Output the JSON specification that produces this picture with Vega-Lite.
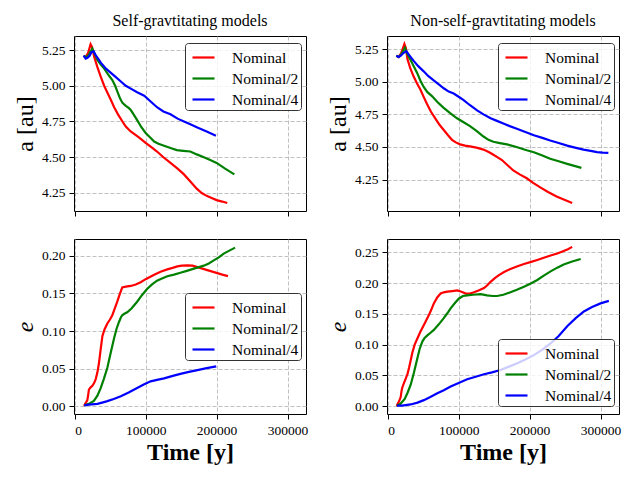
{
  "$schema": "https://vega.github.io/schema/vega-lite/v6.json",
  "background": "white",
  "padding": {"left": 12, "top": 12, "right": 5, "bottom": 5},
  "config": {
    "font": "Liberation Serif",
    "view": {"stroke": "black", "strokeWidth": 1},
    "axis": {
      "grid": true,
      "gridColor": "#b0b0b0",
      "gridDash": [4, 2],
      "gridWidth": 0.8,
      "domain": false,
      "tickColor": "black",
      "tickSize": 5,
      "tickWidth": 1,
      "labelFont": "Liberation Serif",
      "labelFontSize": 13.5,
      "labelColor": "black",
      "labelPadding": 4,
      "titleFont": "Liberation Serif",
      "titleFontSize": 24,
      "titleFontWeight": "normal",
      "titleColor": "black",
      "titlePadding": 4
    },
    "legend": {
      "orient": "none",
      "title": null,
      "zindex": 1,
      "symbolType": "stroke",
      "symbolStrokeWidth": 2.2,
      "symbolSize": 484,
      "symbolOffset": 4,
      "labelFont": "Liberation Serif",
      "labelFontSize": 15.5,
      "labelColor": "black",
      "labelOffset": 16,
      "padding": 2,
      "rowPadding": -0.5,
      "strokeColor": "#333333",
      "fillColor": "rgba(255,255,255,0.8)",
      "cornerRadius": 3
    },
    "title": {"font": "Liberation Serif", "fontSize": 16, "fontWeight": "normal", "color": "black", "offset": 7},
    "line": {"strokeWidth": 2.2}
  },
  "datasets": {
    "sg_a": [
      {"model": "Nominal", "t": 12600, "v": 5.21}, {"model": "Nominal", "t": 15500, "v": 5.20}, {"model": "Nominal", "t": 19000, "v": 5.23},
      {"model": "Nominal", "t": 22400, "v": 5.29}, {"model": "Nominal", "t": 24500, "v": 5.27}, {"model": "Nominal", "t": 27600, "v": 5.20},
      {"model": "Nominal", "t": 32000, "v": 5.13}, {"model": "Nominal", "t": 36900, "v": 5.06}, {"model": "Nominal", "t": 41500, "v": 5.00},
      {"model": "Nominal", "t": 46300, "v": 4.95}, {"model": "Nominal", "t": 51000, "v": 4.90}, {"model": "Nominal", "t": 55600, "v": 4.85},
      {"model": "Nominal", "t": 61000, "v": 4.80}, {"model": "Nominal", "t": 67300, "v": 4.75}, {"model": "Nominal", "t": 72000, "v": 4.715},
      {"model": "Nominal", "t": 78900, "v": 4.68}, {"model": "Nominal", "t": 90000, "v": 4.64}, {"model": "Nominal", "t": 100000, "v": 4.60},
      {"model": "Nominal", "t": 108000, "v": 4.57}, {"model": "Nominal", "t": 116000, "v": 4.54}, {"model": "Nominal", "t": 125000, "v": 4.50},
      {"model": "Nominal", "t": 135000, "v": 4.46}, {"model": "Nominal", "t": 145000, "v": 4.42}, {"model": "Nominal", "t": 154000, "v": 4.38},
      {"model": "Nominal", "t": 163000, "v": 4.33}, {"model": "Nominal", "t": 172000, "v": 4.28}, {"model": "Nominal", "t": 179000, "v": 4.25},
      {"model": "Nominal", "t": 186000, "v": 4.23}, {"model": "Nominal", "t": 193000, "v": 4.215}, {"model": "Nominal", "t": 200000, "v": 4.20},
      {"model": "Nominal", "t": 208000, "v": 4.19}, {"model": "Nominal", "t": 215000, "v": 4.18},
      {"model": "Nominal/2", "t": 12600, "v": 5.21}, {"model": "Nominal/2", "t": 15500, "v": 5.20}, {"model": "Nominal/2", "t": 19000, "v": 5.21},
      {"model": "Nominal/2", "t": 24800, "v": 5.26}, {"model": "Nominal/2", "t": 27500, "v": 5.23}, {"model": "Nominal/2", "t": 32000, "v": 5.18},
      {"model": "Nominal/2", "t": 36500, "v": 5.15}, {"model": "Nominal/2", "t": 41600, "v": 5.12}, {"model": "Nominal/2", "t": 47000, "v": 5.08},
      {"model": "Nominal/2", "t": 53000, "v": 5.04}, {"model": "Nominal/2", "t": 57000, "v": 5.00}, {"model": "Nominal/2", "t": 60000, "v": 4.96},
      {"model": "Nominal/2", "t": 64000, "v": 4.91}, {"model": "Nominal/2", "t": 67300, "v": 4.88}, {"model": "Nominal/2", "t": 72000, "v": 4.86},
      {"model": "Nominal/2", "t": 76000, "v": 4.845}, {"model": "Nominal/2", "t": 79000, "v": 4.83}, {"model": "Nominal/2", "t": 83000, "v": 4.80},
      {"model": "Nominal/2", "t": 88000, "v": 4.76}, {"model": "Nominal/2", "t": 94000, "v": 4.71}, {"model": "Nominal/2", "t": 100000, "v": 4.67},
      {"model": "Nominal/2", "t": 106000, "v": 4.64}, {"model": "Nominal/2", "t": 112000, "v": 4.61}, {"model": "Nominal/2", "t": 118000, "v": 4.595},
      {"model": "Nominal/2", "t": 126000, "v": 4.58}, {"model": "Nominal/2", "t": 135000, "v": 4.565}, {"model": "Nominal/2", "t": 144000, "v": 4.55},
      {"model": "Nominal/2", "t": 153000, "v": 4.545}, {"model": "Nominal/2", "t": 163000, "v": 4.54}, {"model": "Nominal/2", "t": 172000, "v": 4.52},
      {"model": "Nominal/2", "t": 182000, "v": 4.50}, {"model": "Nominal/2", "t": 191000, "v": 4.48}, {"model": "Nominal/2", "t": 200000, "v": 4.46},
      {"model": "Nominal/2", "t": 212000, "v": 4.42}, {"model": "Nominal/2", "t": 225000, "v": 4.38},
      {"model": "Nominal/4", "t": 12600, "v": 5.21}, {"model": "Nominal/4", "t": 15500, "v": 5.19}, {"model": "Nominal/4", "t": 18000, "v": 5.195},
      {"model": "Nominal/4", "t": 21000, "v": 5.21}, {"model": "Nominal/4", "t": 23500, "v": 5.235}, {"model": "Nominal/4", "t": 26600, "v": 5.24},
      {"model": "Nominal/4", "t": 30000, "v": 5.21}, {"model": "Nominal/4", "t": 33000, "v": 5.19}, {"model": "Nominal/4", "t": 37000, "v": 5.16},
      {"model": "Nominal/4", "t": 44000, "v": 5.12}, {"model": "Nominal/4", "t": 51000, "v": 5.09}, {"model": "Nominal/4", "t": 58000, "v": 5.06},
      {"model": "Nominal/4", "t": 65000, "v": 5.03}, {"model": "Nominal/4", "t": 72000, "v": 5.00}, {"model": "Nominal/4", "t": 79000, "v": 4.98},
      {"model": "Nominal/4", "t": 88000, "v": 4.955}, {"model": "Nominal/4", "t": 98000, "v": 4.93}, {"model": "Nominal/4", "t": 107000, "v": 4.89},
      {"model": "Nominal/4", "t": 116000, "v": 4.85}, {"model": "Nominal/4", "t": 125000, "v": 4.82}, {"model": "Nominal/4", "t": 135000, "v": 4.80},
      {"model": "Nominal/4", "t": 145000, "v": 4.77}, {"model": "Nominal/4", "t": 154000, "v": 4.75}, {"model": "Nominal/4", "t": 163000, "v": 4.73},
      {"model": "Nominal/4", "t": 172000, "v": 4.71}, {"model": "Nominal/4", "t": 186000, "v": 4.68}, {"model": "Nominal/4", "t": 199000, "v": 4.65}
    ],
    "nsg_a": [
      {"model": "Nominal", "t": 12200, "v": 5.20}, {"model": "Nominal", "t": 15500, "v": 5.19}, {"model": "Nominal", "t": 19000, "v": 5.22},
      {"model": "Nominal", "t": 23500, "v": 5.29}, {"model": "Nominal", "t": 25500, "v": 5.26}, {"model": "Nominal", "t": 28000, "v": 5.17},
      {"model": "Nominal", "t": 32000, "v": 5.10}, {"model": "Nominal", "t": 36600, "v": 5.04}, {"model": "Nominal", "t": 41000, "v": 4.99},
      {"model": "Nominal", "t": 46000, "v": 4.94}, {"model": "Nominal", "t": 51000, "v": 4.88}, {"model": "Nominal", "t": 55400, "v": 4.83},
      {"model": "Nominal", "t": 61000, "v": 4.77}, {"model": "Nominal", "t": 67000, "v": 4.72}, {"model": "Nominal", "t": 73000, "v": 4.67},
      {"model": "Nominal", "t": 79000, "v": 4.63}, {"model": "Nominal", "t": 85000, "v": 4.59}, {"model": "Nominal", "t": 90600, "v": 4.555},
      {"model": "Nominal", "t": 96000, "v": 4.535}, {"model": "Nominal", "t": 102000, "v": 4.52}, {"model": "Nominal", "t": 109000, "v": 4.51},
      {"model": "Nominal", "t": 116000, "v": 4.505}, {"model": "Nominal", "t": 125000, "v": 4.495}, {"model": "Nominal", "t": 135000, "v": 4.48},
      {"model": "Nominal", "t": 143000, "v": 4.46}, {"model": "Nominal", "t": 149000, "v": 4.44}, {"model": "Nominal", "t": 155000, "v": 4.42},
      {"model": "Nominal", "t": 161000, "v": 4.40}, {"model": "Nominal", "t": 169000, "v": 4.36}, {"model": "Nominal", "t": 177000, "v": 4.32},
      {"model": "Nominal", "t": 186000, "v": 4.29}, {"model": "Nominal", "t": 196000, "v": 4.26}, {"model": "Nominal", "t": 205000, "v": 4.225},
      {"model": "Nominal", "t": 215000, "v": 4.19}, {"model": "Nominal", "t": 226000, "v": 4.155}, {"model": "Nominal", "t": 238000, "v": 4.12},
      {"model": "Nominal", "t": 249000, "v": 4.095}, {"model": "Nominal", "t": 260000, "v": 4.07},
      {"model": "Nominal/2", "t": 12200, "v": 5.20}, {"model": "Nominal/2", "t": 15500, "v": 5.19}, {"model": "Nominal/2", "t": 19000, "v": 5.21},
      {"model": "Nominal/2", "t": 24400, "v": 5.26}, {"model": "Nominal/2", "t": 27000, "v": 5.22}, {"model": "Nominal/2", "t": 32000, "v": 5.17},
      {"model": "Nominal/2", "t": 36500, "v": 5.12}, {"model": "Nominal/2", "t": 41300, "v": 5.07}, {"model": "Nominal/2", "t": 46000, "v": 5.01},
      {"model": "Nominal/2", "t": 50700, "v": 4.96}, {"model": "Nominal/2", "t": 56000, "v": 4.92}, {"model": "Nominal/2", "t": 62400, "v": 4.89},
      {"model": "Nominal/2", "t": 70000, "v": 4.845}, {"model": "Nominal/2", "t": 78900, "v": 4.80}, {"model": "Nominal/2", "t": 88000, "v": 4.76},
      {"model": "Nominal/2", "t": 97700, "v": 4.72}, {"model": "Nominal/2", "t": 107000, "v": 4.69}, {"model": "Nominal/2", "t": 116000, "v": 4.66},
      {"model": "Nominal/2", "t": 126000, "v": 4.62}, {"model": "Nominal/2", "t": 135000, "v": 4.58}, {"model": "Nominal/2", "t": 142000, "v": 4.555},
      {"model": "Nominal/2", "t": 149000, "v": 4.54}, {"model": "Nominal/2", "t": 158000, "v": 4.53}, {"model": "Nominal/2", "t": 168000, "v": 4.52},
      {"model": "Nominal/2", "t": 178000, "v": 4.505}, {"model": "Nominal/2", "t": 187000, "v": 4.49}, {"model": "Nominal/2", "t": 196000, "v": 4.475},
      {"model": "Nominal/2", "t": 206000, "v": 4.46}, {"model": "Nominal/2", "t": 218000, "v": 4.435}, {"model": "Nominal/2", "t": 229000, "v": 4.41},
      {"model": "Nominal/2", "t": 241000, "v": 4.39}, {"model": "Nominal/2", "t": 253000, "v": 4.37}, {"model": "Nominal/2", "t": 263000, "v": 4.355},
      {"model": "Nominal/2", "t": 273000, "v": 4.34},
      {"model": "Nominal/4", "t": 12200, "v": 5.20}, {"model": "Nominal/4", "t": 15500, "v": 5.19}, {"model": "Nominal/4", "t": 18500, "v": 5.20},
      {"model": "Nominal/4", "t": 22000, "v": 5.22}, {"model": "Nominal/4", "t": 26300, "v": 5.235}, {"model": "Nominal/4", "t": 29500, "v": 5.21},
      {"model": "Nominal/4", "t": 33000, "v": 5.185}, {"model": "Nominal/4", "t": 36600, "v": 5.16}, {"model": "Nominal/4", "t": 43000, "v": 5.12},
      {"model": "Nominal/4", "t": 50700, "v": 5.08}, {"model": "Nominal/4", "t": 57000, "v": 5.045}, {"model": "Nominal/4", "t": 64800, "v": 5.01},
      {"model": "Nominal/4", "t": 72000, "v": 4.98}, {"model": "Nominal/4", "t": 79000, "v": 4.95}, {"model": "Nominal/4", "t": 86000, "v": 4.925},
      {"model": "Nominal/4", "t": 93000, "v": 4.91}, {"model": "Nominal/4", "t": 100000, "v": 4.885}, {"model": "Nominal/4", "t": 107000, "v": 4.86},
      {"model": "Nominal/4", "t": 116000, "v": 4.82}, {"model": "Nominal/4", "t": 126000, "v": 4.78}, {"model": "Nominal/4", "t": 135000, "v": 4.75},
      {"model": "Nominal/4", "t": 145000, "v": 4.72}, {"model": "Nominal/4", "t": 154000, "v": 4.70}, {"model": "Nominal/4", "t": 163000, "v": 4.68},
      {"model": "Nominal/4", "t": 172000, "v": 4.66}, {"model": "Nominal/4", "t": 182000, "v": 4.64}, {"model": "Nominal/4", "t": 194000, "v": 4.615},
      {"model": "Nominal/4", "t": 206000, "v": 4.59}, {"model": "Nominal/4", "t": 218000, "v": 4.57}, {"model": "Nominal/4", "t": 229000, "v": 4.55},
      {"model": "Nominal/4", "t": 241000, "v": 4.53}, {"model": "Nominal/4", "t": 253000, "v": 4.51}, {"model": "Nominal/4", "t": 264000, "v": 4.495},
      {"model": "Nominal/4", "t": 276000, "v": 4.48}, {"model": "Nominal/4", "t": 286000, "v": 4.47}, {"model": "Nominal/4", "t": 295000, "v": 4.46},
      {"model": "Nominal/4", "t": 303000, "v": 4.457}, {"model": "Nominal/4", "t": 311000, "v": 4.455}
    ],
    "sg_e": [
      {"model": "Nominal", "t": 13500, "v": 0.0}, {"model": "Nominal", "t": 14000, "v": 0.002}, {"model": "Nominal", "t": 16000, "v": 0.005},
      {"model": "Nominal", "t": 17800, "v": 0.008}, {"model": "Nominal", "t": 19000, "v": 0.015}, {"model": "Nominal", "t": 20000, "v": 0.022},
      {"model": "Nominal", "t": 22500, "v": 0.025}, {"model": "Nominal", "t": 24900, "v": 0.027}, {"model": "Nominal", "t": 27500, "v": 0.031},
      {"model": "Nominal", "t": 29600, "v": 0.036}, {"model": "Nominal", "t": 32000, "v": 0.045}, {"model": "Nominal", "t": 34000, "v": 0.056},
      {"model": "Nominal", "t": 36500, "v": 0.075}, {"model": "Nominal", "t": 39000, "v": 0.093}, {"model": "Nominal", "t": 42000, "v": 0.102},
      {"model": "Nominal", "t": 46000, "v": 0.11}, {"model": "Nominal", "t": 49500, "v": 0.115}, {"model": "Nominal", "t": 53000, "v": 0.121},
      {"model": "Nominal", "t": 56500, "v": 0.13}, {"model": "Nominal", "t": 60000, "v": 0.139}, {"model": "Nominal", "t": 63500, "v": 0.149},
      {"model": "Nominal", "t": 67000, "v": 0.158}, {"model": "Nominal", "t": 72000, "v": 0.159}, {"model": "Nominal", "t": 79000, "v": 0.16},
      {"model": "Nominal", "t": 86000, "v": 0.162}, {"model": "Nominal", "t": 93000, "v": 0.165}, {"model": "Nominal", "t": 100000, "v": 0.169},
      {"model": "Nominal", "t": 106000, "v": 0.172}, {"model": "Nominal", "t": 112000, "v": 0.175}, {"model": "Nominal", "t": 121000, "v": 0.179},
      {"model": "Nominal", "t": 130500, "v": 0.182}, {"model": "Nominal", "t": 138000, "v": 0.184}, {"model": "Nominal", "t": 144600, "v": 0.186},
      {"model": "Nominal", "t": 151000, "v": 0.187}, {"model": "Nominal", "t": 158700, "v": 0.1875}, {"model": "Nominal", "t": 166000, "v": 0.187},
      {"model": "Nominal", "t": 172800, "v": 0.185}, {"model": "Nominal", "t": 180000, "v": 0.183}, {"model": "Nominal", "t": 186900, "v": 0.181},
      {"model": "Nominal", "t": 194000, "v": 0.179}, {"model": "Nominal", "t": 201000, "v": 0.177}, {"model": "Nominal", "t": 208000, "v": 0.175},
      {"model": "Nominal", "t": 216000, "v": 0.173},
      {"model": "Nominal/2", "t": 13500, "v": 0.001}, {"model": "Nominal/2", "t": 20000, "v": 0.003}, {"model": "Nominal/2", "t": 27000, "v": 0.007},
      {"model": "Nominal/2", "t": 32000, "v": 0.014}, {"model": "Nominal/2", "t": 36600, "v": 0.024}, {"model": "Nominal/2", "t": 41000, "v": 0.036},
      {"model": "Nominal/2", "t": 46000, "v": 0.051}, {"model": "Nominal/2", "t": 50500, "v": 0.07}, {"model": "Nominal/2", "t": 55400, "v": 0.09},
      {"model": "Nominal/2", "t": 59000, "v": 0.103}, {"model": "Nominal/2", "t": 62400, "v": 0.112}, {"model": "Nominal/2", "t": 65000, "v": 0.118},
      {"model": "Nominal/2", "t": 67000, "v": 0.121}, {"model": "Nominal/2", "t": 70000, "v": 0.123}, {"model": "Nominal/2", "t": 74000, "v": 0.125},
      {"model": "Nominal/2", "t": 80000, "v": 0.13}, {"model": "Nominal/2", "t": 88000, "v": 0.139}, {"model": "Nominal/2", "t": 95000, "v": 0.148},
      {"model": "Nominal/2", "t": 102000, "v": 0.156}, {"model": "Nominal/2", "t": 109000, "v": 0.162}, {"model": "Nominal/2", "t": 116000, "v": 0.167},
      {"model": "Nominal/2", "t": 123000, "v": 0.17}, {"model": "Nominal/2", "t": 130500, "v": 0.173}, {"model": "Nominal/2", "t": 140000, "v": 0.175},
      {"model": "Nominal/2", "t": 149000, "v": 0.1775}, {"model": "Nominal/2", "t": 158000, "v": 0.18}, {"model": "Nominal/2", "t": 168000, "v": 0.183},
      {"model": "Nominal/2", "t": 175000, "v": 0.185}, {"model": "Nominal/2", "t": 182000, "v": 0.187}, {"model": "Nominal/2", "t": 189000, "v": 0.19},
      {"model": "Nominal/2", "t": 196000, "v": 0.194}, {"model": "Nominal/2", "t": 203000, "v": 0.198}, {"model": "Nominal/2", "t": 210000, "v": 0.203},
      {"model": "Nominal/2", "t": 218000, "v": 0.207}, {"model": "Nominal/2", "t": 226000, "v": 0.211},
      {"model": "Nominal/4", "t": 13500, "v": 0.001}, {"model": "Nominal/4", "t": 20000, "v": 0.002}, {"model": "Nominal/4", "t": 32000, "v": 0.003},
      {"model": "Nominal/4", "t": 40000, "v": 0.005}, {"model": "Nominal/4", "t": 46000, "v": 0.0066}, {"model": "Nominal/4", "t": 55000, "v": 0.0095},
      {"model": "Nominal/4", "t": 65000, "v": 0.013}, {"model": "Nominal/4", "t": 76000, "v": 0.018}, {"model": "Nominal/4", "t": 88000, "v": 0.024},
      {"model": "Nominal/4", "t": 98000, "v": 0.029}, {"model": "Nominal/4", "t": 107000, "v": 0.033}, {"model": "Nominal/4", "t": 116000, "v": 0.035},
      {"model": "Nominal/4", "t": 126000, "v": 0.037}, {"model": "Nominal/4", "t": 137000, "v": 0.040}, {"model": "Nominal/4", "t": 149000, "v": 0.043},
      {"model": "Nominal/4", "t": 161000, "v": 0.0455}, {"model": "Nominal/4", "t": 173000, "v": 0.048}, {"model": "Nominal/4", "t": 186000, "v": 0.0505},
      {"model": "Nominal/4", "t": 199500, "v": 0.053}
    ],
    "nsg_e": [
      {"model": "Nominal", "t": 13000, "v": 0.0}, {"model": "Nominal", "t": 13600, "v": 0.003}, {"model": "Nominal", "t": 16000, "v": 0.008},
      {"model": "Nominal", "t": 18300, "v": 0.015}, {"model": "Nominal", "t": 19500, "v": 0.025}, {"model": "Nominal", "t": 20700, "v": 0.031},
      {"model": "Nominal", "t": 23000, "v": 0.038}, {"model": "Nominal", "t": 25400, "v": 0.045}, {"model": "Nominal", "t": 28000, "v": 0.053},
      {"model": "Nominal", "t": 30000, "v": 0.062}, {"model": "Nominal", "t": 32500, "v": 0.075}, {"model": "Nominal", "t": 34700, "v": 0.087},
      {"model": "Nominal", "t": 38000, "v": 0.1}, {"model": "Nominal", "t": 41800, "v": 0.11}, {"model": "Nominal", "t": 46000, "v": 0.121},
      {"model": "Nominal", "t": 51000, "v": 0.132}, {"model": "Nominal", "t": 54500, "v": 0.14}, {"model": "Nominal", "t": 58000, "v": 0.148},
      {"model": "Nominal", "t": 61500, "v": 0.157}, {"model": "Nominal", "t": 65000, "v": 0.167}, {"model": "Nominal", "t": 70000, "v": 0.177},
      {"model": "Nominal", "t": 74600, "v": 0.183}, {"model": "Nominal", "t": 79000, "v": 0.185}, {"model": "Nominal", "t": 84000, "v": 0.186},
      {"model": "Nominal", "t": 91000, "v": 0.187}, {"model": "Nominal", "t": 98000, "v": 0.188}, {"model": "Nominal", "t": 104000, "v": 0.186},
      {"model": "Nominal", "t": 110000, "v": 0.183}, {"model": "Nominal", "t": 116000, "v": 0.183}, {"model": "Nominal", "t": 121600, "v": 0.185},
      {"model": "Nominal", "t": 128000, "v": 0.188}, {"model": "Nominal", "t": 135700, "v": 0.192}, {"model": "Nominal", "t": 140000, "v": 0.196},
      {"model": "Nominal", "t": 145000, "v": 0.202}, {"model": "Nominal", "t": 151000, "v": 0.208}, {"model": "Nominal", "t": 156800, "v": 0.213},
      {"model": "Nominal", "t": 164000, "v": 0.218}, {"model": "Nominal", "t": 173000, "v": 0.223}, {"model": "Nominal", "t": 182000, "v": 0.227},
      {"model": "Nominal", "t": 192000, "v": 0.231}, {"model": "Nominal", "t": 201000, "v": 0.234}, {"model": "Nominal", "t": 210800, "v": 0.2375},
      {"model": "Nominal", "t": 220000, "v": 0.241}, {"model": "Nominal", "t": 229600, "v": 0.2446}, {"model": "Nominal", "t": 239000, "v": 0.248},
      {"model": "Nominal", "t": 248000, "v": 0.252}, {"model": "Nominal", "t": 254000, "v": 0.255}, {"model": "Nominal", "t": 260000, "v": 0.2587},
      {"model": "Nominal/2", "t": 13000, "v": 0.001}, {"model": "Nominal/2", "t": 18000, "v": 0.004}, {"model": "Nominal/2", "t": 24000, "v": 0.012},
      {"model": "Nominal/2", "t": 28000, "v": 0.022}, {"model": "Nominal/2", "t": 32400, "v": 0.035}, {"model": "Nominal/2", "t": 37000, "v": 0.055},
      {"model": "Nominal/2", "t": 41800, "v": 0.078}, {"model": "Nominal/2", "t": 45000, "v": 0.093}, {"model": "Nominal/2", "t": 48800, "v": 0.105},
      {"model": "Nominal/2", "t": 52000, "v": 0.111}, {"model": "Nominal/2", "t": 55900, "v": 0.115}, {"model": "Nominal/2", "t": 60000, "v": 0.119},
      {"model": "Nominal/2", "t": 65000, "v": 0.124}, {"model": "Nominal/2", "t": 72000, "v": 0.133}, {"model": "Nominal/2", "t": 79000, "v": 0.143},
      {"model": "Nominal/2", "t": 84000, "v": 0.151}, {"model": "Nominal/2", "t": 88700, "v": 0.159}, {"model": "Nominal/2", "t": 95000, "v": 0.168},
      {"model": "Nominal/2", "t": 100500, "v": 0.175}, {"model": "Nominal/2", "t": 106000, "v": 0.179}, {"model": "Nominal/2", "t": 112000, "v": 0.18},
      {"model": "Nominal/2", "t": 120000, "v": 0.181}, {"model": "Nominal/2", "t": 131000, "v": 0.182}, {"model": "Nominal/2", "t": 140000, "v": 0.18},
      {"model": "Nominal/2", "t": 148000, "v": 0.179}, {"model": "Nominal/2", "t": 154000, "v": 0.179}, {"model": "Nominal/2", "t": 163000, "v": 0.181},
      {"model": "Nominal/2", "t": 173000, "v": 0.185}, {"model": "Nominal/2", "t": 182000, "v": 0.189}, {"model": "Nominal/2", "t": 192000, "v": 0.194},
      {"model": "Nominal/2", "t": 201000, "v": 0.199}, {"model": "Nominal/2", "t": 210800, "v": 0.205}, {"model": "Nominal/2", "t": 220000, "v": 0.212},
      {"model": "Nominal/2", "t": 229600, "v": 0.219}, {"model": "Nominal/2", "t": 239000, "v": 0.225}, {"model": "Nominal/2", "t": 248000, "v": 0.23},
      {"model": "Nominal/2", "t": 260000, "v": 0.235}, {"model": "Nominal/2", "t": 272000, "v": 0.239},
      {"model": "Nominal/4", "t": 13000, "v": 0.001}, {"model": "Nominal/4", "t": 20000, "v": 0.001}, {"model": "Nominal/4", "t": 32400, "v": 0.003},
      {"model": "Nominal/4", "t": 42000, "v": 0.006}, {"model": "Nominal/4", "t": 51000, "v": 0.01}, {"model": "Nominal/4", "t": 60000, "v": 0.015},
      {"model": "Nominal/4", "t": 70000, "v": 0.021}, {"model": "Nominal/4", "t": 79000, "v": 0.026}, {"model": "Nominal/4", "t": 88700, "v": 0.032},
      {"model": "Nominal/4", "t": 100000, "v": 0.038}, {"model": "Nominal/4", "t": 112000, "v": 0.044}, {"model": "Nominal/4", "t": 124000, "v": 0.048},
      {"model": "Nominal/4", "t": 135700, "v": 0.052}, {"model": "Nominal/4", "t": 147000, "v": 0.055}, {"model": "Nominal/4", "t": 159000, "v": 0.059},
      {"model": "Nominal/4", "t": 170000, "v": 0.064}, {"model": "Nominal/4", "t": 182600, "v": 0.07}, {"model": "Nominal/4", "t": 194000, "v": 0.076},
      {"model": "Nominal/4", "t": 206000, "v": 0.083}, {"model": "Nominal/4", "t": 218000, "v": 0.092}, {"model": "Nominal/4", "t": 229600, "v": 0.102},
      {"model": "Nominal/4", "t": 241000, "v": 0.114}, {"model": "Nominal/4", "t": 253000, "v": 0.13}, {"model": "Nominal/4", "t": 265000, "v": 0.143},
      {"model": "Nominal/4", "t": 276500, "v": 0.154}, {"model": "Nominal/4", "t": 288000, "v": 0.161}, {"model": "Nominal/4", "t": 300000, "v": 0.167},
      {"model": "Nominal/4", "t": 311700, "v": 0.171}
    ]
  },
  "bounds": "flush",
  "columns": 2,
  "spacing": {"row": 28, "column": 81},
  "resolve": {"scale": {"color": "independent", "x": "independent", "y": "independent"}, "legend": {"color": "independent"}},
  "concat": [
    {
      "title": "Self-gravtitating models",
      "width": 232,
      "height": 175,
      "data": {"name": "sg_a"},
      "mark": "line",
      "encoding": {
        "x": {"field": "t", "type": "quantitative", "scale": {"domain": [-1000, 326000], "nice": false, "zero": false},
              "axis": {"title": null, "labels": false, "values": [0, 100000, 200000, 300000]}},
        "y": {"field": "v", "type": "quantitative", "scale": {"domain": [4.124, 5.348], "nice": false, "zero": false},
              "axis": {"title": "a [au]", "format": ".2f", "values": [4.25, 4.5, 4.75, 5.0, 5.25]}},
        "color": {"field": "model", "type": "nominal",
                  "scale": {"domain": ["Nominal", "Nominal/2", "Nominal/4"], "range": ["#ff0000", "#008000", "#0000ff"]},
                  "legend": {"legendX": 111, "legendY": 7}}
      }
    },
    {
      "title": "Non-self-gravtitating models",
      "width": 232,
      "height": 175,
      "data": {"name": "nsg_a"},
      "mark": "line",
      "encoding": {
        "x": {"field": "t", "type": "quantitative", "scale": {"domain": [-1000, 326000], "nice": false, "zero": false},
              "axis": {"title": null, "labels": false, "values": [0, 100000, 200000, 300000]}},
        "y": {"field": "v", "type": "quantitative", "scale": {"domain": [4.009, 5.351], "nice": false, "zero": false},
              "axis": {"title": "a [au]", "format": ".2f", "values": [4.25, 4.5, 4.75, 5.0, 5.25]}},
        "color": {"field": "model", "type": "nominal",
                  "scale": {"domain": ["Nominal", "Nominal/2", "Nominal/4"], "range": ["#ff0000", "#008000", "#0000ff"]},
                  "legend": {"legendX": 111, "legendY": 7}}
      }
    },
    {
      "width": 232,
      "height": 175,
      "data": {"name": "sg_e"},
      "mark": "line",
      "encoding": {
        "x": {"field": "t", "type": "quantitative", "scale": {"domain": [-1000, 326000], "nice": false, "zero": false},
              "axis": {"title": "Time [y]", "titleFontWeight": "bold", "format": "d", "values": [0, 100000, 200000, 300000]}},
        "y": {"field": "v", "type": "quantitative", "scale": {"domain": [-0.0105, 0.2225], "nice": false, "zero": false},
              "axis": {"title": "e", "titleFontStyle": "italic", "format": ".2f", "values": [0, 0.05, 0.1, 0.15, 0.2]}},
        "color": {"field": "model", "type": "nominal",
                  "scale": {"domain": ["Nominal", "Nominal/2", "Nominal/4"], "range": ["#ff0000", "#008000", "#0000ff"]},
                  "legend": {"legendX": 111, "legendY": 54}}
      }
    },
    {
      "width": 232,
      "height": 175,
      "data": {"name": "nsg_e"},
      "mark": "line",
      "encoding": {
        "x": {"field": "t", "type": "quantitative", "scale": {"domain": [-1000, 326000], "nice": false, "zero": false},
              "axis": {"title": "Time [y]", "titleFontWeight": "bold", "format": "d", "values": [0, 100000, 200000, 300000]}},
        "y": {"field": "v", "type": "quantitative", "scale": {"domain": [-0.0125, 0.2715], "nice": false, "zero": false},
              "axis": {"title": "e", "titleFontStyle": "italic", "format": ".2f", "values": [0, 0.05, 0.1, 0.15, 0.2, 0.25]}},
        "color": {"field": "model", "type": "nominal",
                  "scale": {"domain": ["Nominal", "Nominal/2", "Nominal/4"], "range": ["#ff0000", "#008000", "#0000ff"]},
                  "legend": {"legendX": 111, "legendY": 100}}
      }
    }
  ]
}
